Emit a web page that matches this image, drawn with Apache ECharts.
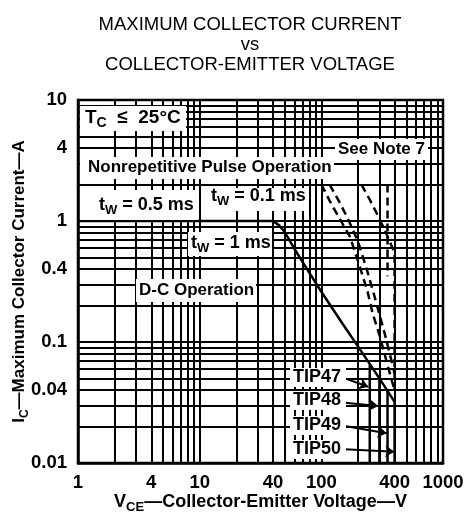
<!DOCTYPE html>
<html><head><meta charset="utf-8">
<script src="https://cdn.jsdelivr.net/npm/echarts@6/dist/echarts.min.js"></script>
<style>html,body{margin:0;padding:0;background:#fff}#c{width:466px;height:518px}</style>
</head><body><div id="c"></div>
<script>
// ---- data ----
const xTickLabels = [1, 4, 10, 40, 100, 400, 1000];
const yTickLabels = [0.01, 0.04, 0.1, 0.4, 1, 4, 10];
const xGridValues = [1, 2, 3, 4, 5, 6, 7, 8, 9, 10, 20, 30, 40, 50, 60, 70, 80, 90, 100, 200, 300, 400, 500, 600, 700, 800, 900, 1000];
const yGridValues = [0.01, 0.02, 0.03, 0.04, 0.05, 0.06, 0.07, 0.08, 0.09, 0.1, 0.2, 0.3, 0.4, 0.5, 0.6, 0.7, 0.8, 0.9, 1, 2, 3, 4, 5, 6, 7, 8, 9, 10];

// D-C operation (solid)
const dcOperation = [[1, 1], [40, 1], [45, 0.92], [50, 0.81], [60, 0.59], [70, 0.46], [100, 0.26], [150, 0.141], [200, 0.092], [300, 0.05], [400, 0.032], [400, 0.01]];
// VCEO limits of the four devices (solid verticals)
const tip47Limit = [[250, 0.065], [250, 0.01]];
const tip48Limit = [[300, 0.05], [300, 0.01]];
const tip49Limit = [[350, 0.04], [350, 0.01]];
// nonrepetitive pulse operation (dashed)
const pulse1ms = [[100, 2], [120, 1.4], [145, 1.0], [172, 0.74], [207, 0.42], [240, 0.26], [265, 0.17], [300, 0.115], [340, 0.072], [375, 0.05], [400, 0.04]];
const pulse05ms = [[117, 2], [140, 1.45], [165, 1.05], [200, 0.68], [236, 0.4], [270, 0.25], [300, 0.17], [330, 0.12], [365, 0.08], [400, 0.055]];
const pulse01ms = [[214, 2], [250, 1.5], [285, 1.16], [340, 0.8], [389, 0.58], [400, 0.55], [400, 0.04]];
const pulse350 = [[350, 2], [350, 0.35]];
// arrows from device labels to their limits
const arrowStarts = [[156, 0.0501], [156, 0.0315], [156, 0.0202], [156, 0.013]];
const arrowEnds = [[243, 0.0427], [293, 0.0296], [344, 0.0176], [398, 0.0124]];

// ---- chart ----
const F = '"Liberation Sans", Arial, Helvetica, sans-serif';
const chart = echarts.init(document.getElementById('c'), null, {renderer: 'canvas'});

function rich(size, sub) {
  return {
    b: {fontSize: size, fontWeight: 'bold', fontFamily: F, color: '#000', lineHeight: size + 6},
    s: {fontSize: sub, fontWeight: 'bold', fontFamily: F, color: '#000', lineHeight: sub, verticalAlign: 'bottom'}
  };
}

const solid = {color: '#000', width: 2.5, type: 'solid'};
const dashed = {color: '#000', width: 2.5, type: [8, 5]};

function lineSeries(data, style) {
  return {type: 'line', data: data, showSymbol: false, symbol: 'none', lineStyle: style, z: 3, silent: true};
}

// annotation boxes: [x0, y0, x1, y1, textX, textY, text, fontSize, subSize]
const boxes = [
  [80, 106, 186, 131, 85, 118, '{b|T}{s|C}{b|  ≤  25°C}', 19, 14],
  [335, 139, 428, 160, 338, 149, '{b|See Note 7}', 17, 12],
  [80, 157, 334, 179, 88, 167, '{b|Nonrepetitive Pulse Operation}', 17, 12],
  [80, 190, 198, 220, 99, 205, '{b|t}{s|W}{b| = 0.5 ms}', 18, 13],
  [207, 188, 307, 211, 211, 196, '{b|t}{s|W}{b| = 0.1 ms}', 18, 13],
  [188, 232, 272, 256, 191, 243, '{b|t}{s|W}{b| = 1 ms}', 18, 13],
  [136, 279, 256, 302, 139, 290, '{b|D-C Operation}', 17, 12],
  [290, 368, 346, 387, 293, 377, '{b|TIP47}', 18, 12],
  [290, 391, 346, 410, 293, 400, '{b|TIP48}', 18, 12],
  [290, 416, 346, 435, 293, 425, '{b|TIP49}', 18, 12],
  [290, 440, 346, 459, 293, 449, '{b|TIP50}', 18, 12]
];
const graphics = [];
boxes.forEach(function (b) {
  graphics.push({type: 'rect', z: 50, shape: {x: b[0], y: b[1], width: b[2] - b[0], height: b[3] - b[1]}, style: {fill: '#fff'}});
  graphics.push({type: 'text', z: 51, x: b[4], y: b[5], style: {text: b[6], rich: rich(b[7], b[8]), verticalAlign: 'middle', align: 'left'}});
});

const option = {
  animation: false,
  backgroundColor: '#fff',
  title: {
    text: 'MAXIMUM COLLECTOR CURRENT\nvs\nCOLLECTOR-EMITTER VOLTAGE',
    left: 245, top: 10, textAlign: 'center',
    textStyle: {fontSize: 18.5, fontWeight: 'normal', fontFamily: F, color: '#000', lineHeight: 20}
  },
  grid: {left: 78, right: 23, top: 100, bottom: 55, containLabel: false, outerBoundsMode: 'none',
    show: true, borderColor: '#000', borderWidth: 2.5, backgroundColor: 'transparent'},
  xAxis: {
    type: 'log', logBase: 10, min: 1, max: 1000,
    axisLine: {show: true, lineStyle: {color: '#000', width: 2.5}},
    axisTick: {show: false, customValues: xGridValues},
    splitLine: {show: true, lineStyle: {color: '#000', width: 2}},
    axisLabel: {customValues: xTickLabels, formatter: function (v) { return String(+v.toPrecision(6)); },
      fontSize: 18.5, fontWeight: 'bold', fontFamily: F, color: '#000', margin: 10},
    name: '{b|V}{s|CE}{b|—Collector-Emitter Voltage—V}',
    nameLocation: 'middle', nameGap: 27, nameMoveOverlap: false,
    nameTextStyle: {rich: rich(18, 13)}
  },
  yAxis: {
    type: 'log', logBase: 10, min: 0.01, max: 10,
    axisLine: {show: true, lineStyle: {color: '#000', width: 2.5}},
    axisTick: {show: false, customValues: yGridValues},
    splitLine: {show: true, lineStyle: {color: '#000', width: 2}},
    axisLabel: {customValues: yTickLabels, formatter: function (v) { return String(+v.toPrecision(6)); },
      fontSize: 18.5, fontWeight: 'bold', fontFamily: F, color: '#000', margin: 11},
    name: '{b|I}{s|C}{b|—Maximum Collector Current—A}',
    nameLocation: 'middle', nameGap: 47, nameRotate: 90, nameMoveOverlap: false,
    nameTextStyle: {rich: rich(17, 12)}
  },
  series: [
    Object.assign(lineSeries(dcOperation, solid), {
      markLine: {
        silent: true, animation: false, symbol: ['none', 'arrow'], symbolSize: 9,
        label: {show: false}, lineStyle: {color: '#000', width: 2, type: 'solid'},
        data: arrowStarts.map(function (s, i) { return [{coord: s}, {coord: arrowEnds[i]}]; })
      }
    }),
    lineSeries(tip47Limit, solid),
    lineSeries(tip48Limit, solid),
    lineSeries(tip49Limit, solid),
    lineSeries(pulse1ms, dashed),
    lineSeries(pulse05ms, dashed),
    lineSeries(pulse01ms, dashed),
    lineSeries(pulse350, dashed)
  ],
  graphic: graphics
};
chart.setOption(option);
</script>
</body></html>
